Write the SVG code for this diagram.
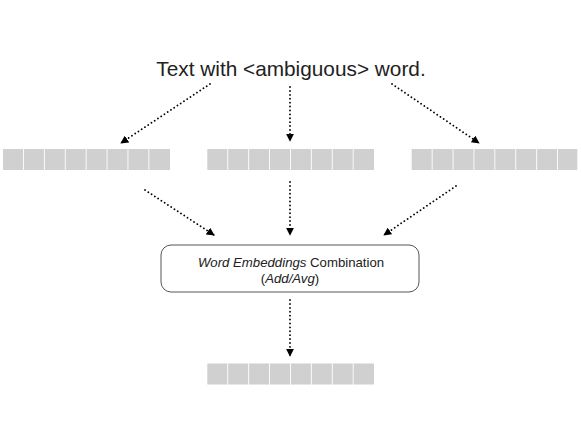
<svg xmlns="http://www.w3.org/2000/svg" width="581" height="436" viewBox="0 0 581 436">
<defs>
<marker id="ah" viewBox="0 0 10 10" refX="9" refY="5" markerWidth="8" markerHeight="8" markerUnits="userSpaceOnUse" orient="auto">
<path d="M0,0 L10,5 L0,10 z" fill="#000"/>
</marker>
</defs>
<style>
.t{font-family:"Liberation Sans",Arial,sans-serif;fill:#222}
.c{stroke:#000;stroke-width:1.8;fill:none;stroke-dasharray:0.1 3.8;stroke-linecap:round;marker-end:url(#ah)}
.cell{fill:#d0d0d0}
</style>
<rect width="581" height="436" fill="#fff"/>
<g id="title"><text class="t" x="291" y="76" font-size="20.8" text-anchor="middle">Text with &lt;ambiguous&gt; word.</text></g>
<g id="vec-left" transform="translate(3,149)">
<rect class="cell" x="0" y="0" width="20" height="21"/><rect class="cell" x="20.9" y="0" width="20" height="21"/><rect class="cell" x="41.8" y="0" width="20" height="21"/><rect class="cell" x="62.7" y="0" width="20" height="21"/><rect class="cell" x="83.6" y="0" width="20" height="21"/><rect class="cell" x="104.5" y="0" width="20" height="21"/><rect class="cell" x="125.4" y="0" width="20" height="21"/><rect class="cell" x="146.3" y="0" width="20.7" height="21"/>
</g>
<g id="vec-mid" transform="translate(207.3,149)">
<rect class="cell" x="0" y="0" width="20" height="21"/><rect class="cell" x="20.9" y="0" width="20" height="21"/><rect class="cell" x="41.8" y="0" width="20" height="21"/><rect class="cell" x="62.7" y="0" width="20" height="21"/><rect class="cell" x="83.6" y="0" width="20" height="21"/><rect class="cell" x="104.5" y="0" width="20" height="21"/><rect class="cell" x="125.4" y="0" width="20" height="21"/><rect class="cell" x="146.3" y="0" width="20.4" height="21"/>
</g>
<g id="vec-right" transform="translate(411.7,149)">
<rect class="cell" x="0" y="0" width="20" height="21"/><rect class="cell" x="20.9" y="0" width="20" height="21"/><rect class="cell" x="41.8" y="0" width="20" height="21"/><rect class="cell" x="62.7" y="0" width="20" height="21"/><rect class="cell" x="83.6" y="0" width="20" height="21"/><rect class="cell" x="104.5" y="0" width="20" height="21"/><rect class="cell" x="125.4" y="0" width="20" height="21"/><rect class="cell" x="146.3" y="0" width="19.3" height="21"/>
</g>
<g id="combine">
<rect x="161" y="245" width="258" height="47" rx="10" ry="10" fill="#fff" stroke="#555" stroke-width="1"/>
<text class="t" x="291" y="267" font-size="13.2" text-anchor="middle"><tspan font-style="italic">Word Embeddings</tspan> Combination</text>
<text class="t" x="290" y="283" font-size="13.2" text-anchor="middle">(<tspan font-style="italic">Add/Avg</tspan>)</text>
</g>
<g id="vec-out" transform="translate(207.3,363.5)">
<rect class="cell" x="0" y="0" width="20" height="21"/><rect class="cell" x="20.9" y="0" width="20" height="21"/><rect class="cell" x="41.8" y="0" width="20" height="21"/><rect class="cell" x="62.7" y="0" width="20" height="21"/><rect class="cell" x="83.6" y="0" width="20" height="21"/><rect class="cell" x="104.5" y="0" width="20" height="21"/><rect class="cell" x="125.4" y="0" width="20" height="21"/><rect class="cell" x="146.3" y="0" width="20.4" height="21"/>
</g>
<g id="connectors">
<line class="c" x1="210" y1="84" x2="121" y2="143"/>
<line class="c" x1="290" y1="87" x2="290" y2="141"/>
<line class="c" x1="392" y1="84" x2="479" y2="143"/>
<line class="c" x1="145" y1="190" x2="214" y2="235"/>
<line class="c" x1="290" y1="182" x2="290" y2="235"/>
<line class="c" x1="456" y1="186" x2="384" y2="235"/>
<line class="c" x1="290" y1="300" x2="290" y2="356"/>
</g>
</svg>
